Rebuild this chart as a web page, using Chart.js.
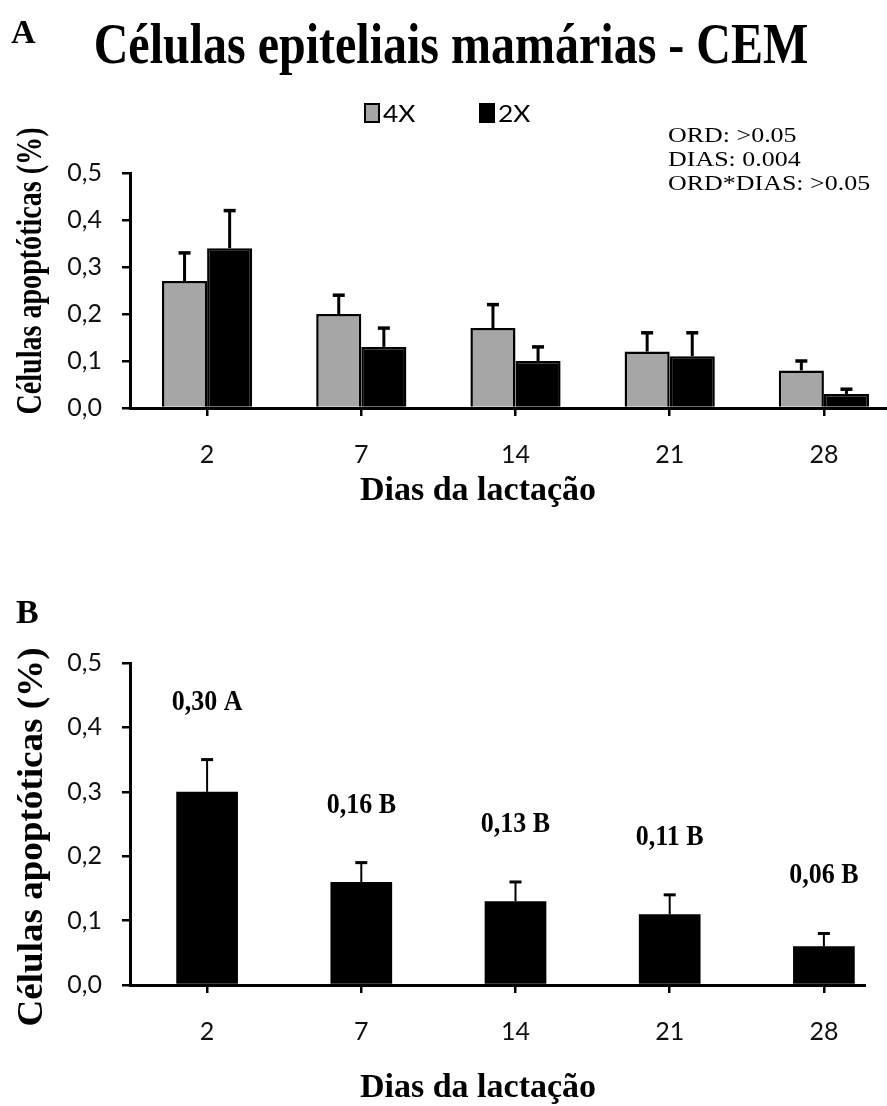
<!DOCTYPE html>
<html><head><meta charset="utf-8">
<script src="https://cdn.jsdelivr.net/npm/chart.js@4.4.1/dist/chart.umd.min.js"></script>
<style>
html,body{margin:0;padding:0;background:#fff;overflow:hidden;width:887px;height:1106px;}
#wa{position:absolute;left:0;top:0;width:887px;height:545px;overflow:hidden;}
#wb{position:absolute;left:0;top:545px;width:866px;height:561px;overflow:hidden;}
canvas{display:block;}
</style></head><body>
<div id="wa"><canvas id="ca" width="910" height="545" style="width:910px;height:545px"></canvas></div>
<div id="wb"><canvas id="cb" width="910" height="561" style="width:910px;height:561px"></canvas></div>
<script>
// ---- data ----
const days = ['2', '7', '14', '21', '28'];
const seriesNames = ['4X', '2X'];
const meanA4X = [0.27, 0.20, 0.17, 0.12, 0.08];
const errA4X  = [0.06, 0.04, 0.05, 0.04, 0.02];
const meanA2X = [0.34, 0.13, 0.10, 0.11, 0.03];
const errA2X  = [0.08, 0.04, 0.03, 0.05, 0.01];
const meanB = [0.30, 0.16, 0.13, 0.11, 0.06];
const errB  = [0.05, 0.03, 0.03, 0.03, 0.02];
const labelsB = ['0,30 A', '0,16 B', '0,13 B', '0,11 B', '0,06 B'];
const statsLines = ['ORD: >0.05', 'DIAS: 0.004', 'ORD*DIAS: >0.05'];
const titleA = 'Células epiteliais mamárias - CEM';
const yTitle = 'Células apoptóticas (%)';
const xTitle = 'Dias da lactação';

const SERIF = '"Liberation Serif", "Times New Roman", serif';
const SANS = 'Lato, Carlito, Calibri, sans-serif';

function drawText(ctx, str, x, y, font, o = {}) {
  ctx.save();
  ctx.font = font;
  ctx.fillStyle = o.color || '#000';
  ctx.textBaseline = o.baseline || 'alphabetic';
  ctx.textAlign = 'left';
  ctx.translate(x, y);
  if (o.rotate) ctx.rotate(o.rotate);
  ctx.scale(o.sx || 1, o.sy || 1);
  const w = ctx.measureText(str).width;
  const a = o.align || 'left';
  const dx = a === 'center' ? -w / 2 : a === 'right' ? -w : 0;
  ctx.fillText(str, dx, 0);
  ctx.restore();
}

const errorBars = {
  id: 'errorBars',
  afterDatasetsDraw(chart, args, opts) {
    const ctx = chart.ctx, y = chart.scales.y;
    chart.data.datasets.forEach((ds, i) => {
      const meta = chart.getDatasetMeta(i);
      meta.data.forEach((el, j) => {
        const top = y.getPixelForValue(ds.data[j] + ds.errors[j]);
        ctx.save();
        ctx.strokeStyle = '#000';
        ctx.lineWidth = opts.stem;
        ctx.beginPath();
        ctx.moveTo(el.x, el.y);
        ctx.lineTo(el.x, top);
        ctx.stroke();
        ctx.lineWidth = opts.cap;
        ctx.beginPath();
        ctx.moveTo(el.x - opts.capW / 2, top);
        ctx.lineTo(el.x + opts.capW / 2, top);
        ctx.stroke();
        ctx.restore();
      });
    });
  }
};

const fmt = v => (Math.round(v * 10) / 10).toFixed(1).replace('.', ',');

function scalesCfg(xHeight) {
  return {
    x: {
      type: 'category',
      grid: { display: true, drawOnChartArea: false, offset: false, tickLength: 8, color: '#000', lineWidth: 2.5 },
      border: { display: true, color: '#000', width: 3 },
      ticks: { color: '#111', font: { family: SANS, size: 25 }, padding: 24 },
      afterFit(s) { s.height = xHeight; }
    },
    y: {
      min: 0, max: 0.5,
      grid: { display: true, drawOnChartArea: false, tickLength: 8, color: '#000', lineWidth: 2.5 },
      border: { display: true, color: '#000', width: 3 },
      ticks: { stepSize: 0.1, color: '#111', font: { family: SANS, size: 25 }, padding: 20, callback: v => fmt(v) },
      afterFit(s) { s.width = 130; }
    }
  };
}

// ---- Chart A ----
const textA = {
  id: 'textA',
  afterDraw(chart) {
    const ctx = chart.ctx;
    drawText(ctx, 'A', 11, 43, `bold 34px ${SERIF}`);
    drawText(ctx, titleA, 451, 63, `bold 48px ${SERIF}`, { align: 'center', sy: 1.18 });
    // legend
    const items = chart.data.datasets;
    const lx = [365, 480];
    items.forEach((ds, i) => {
      ctx.save();
      ctx.fillStyle = ds.backgroundColor;
      ctx.strokeStyle = '#000';
      ctx.lineWidth = 2;
      ctx.fillRect(lx[i], 104, 14, 18);
      ctx.strokeRect(lx[i], 104, 14, 18);
      ctx.restore();
      drawText(ctx, ds.label, lx[i] + 18, 122, `24px ${SANS}`, { sx: 1.1 });
    });
    statsLines.forEach((t, i) => drawText(ctx, t, 668, 142 + i * 24, `22px ${SERIF}`, { sx: 1.18 }));
    drawText(ctx, yTitle, 41, 271, `bold 36px ${SERIF}`, { rotate: -Math.PI / 2, align: 'center', sx: 0.78 });
    drawText(ctx, xTitle, 478, 500, `bold 34px ${SERIF}`, { align: 'center' });
  }
};

new Chart(document.getElementById('ca'), {
  type: 'bar',
  data: {
    labels: days,
    datasets: [
      { label: seriesNames[0], data: meanA4X, errors: errA4X, backgroundColor: '#A6A6A6', borderColor: '#000', borderWidth: 2.5 },
      { label: seriesNames[1], data: meanA2X, errors: errA2X, backgroundColor: '#000000', borderColor: '#000', borderWidth: 2.5 }
    ]
  },
  options: {
    responsive: false, animation: false, events: [],
    layout: { padding: { top: 173, left: 0, right: 9, bottom: 0 } },
    datasets: { bar: { categoryPercentage: 0.585, barPercentage: 1.0 } },
    plugins: { legend: { display: false }, tooltip: { enabled: false }, title: { display: false },
      errorBars: { stem: 3, cap: 3.5, capW: 12 } },
    scales: scalesCfg(137)
  },
  plugins: [errorBars, textA]
});

// ---- Chart B ----
const textB = {
  id: 'textB',
  afterDraw(chart) {
    const ctx = chart.ctx;
    const y = chart.scales.y;
    drawText(ctx, 'B', 16, 78, `bold 34px ${SERIF}`);
    drawText(ctx, yTitle, 42, 292, `bold 36px ${SERIF}`, { rotate: -Math.PI / 2, align: 'center', sx: 1.03 });
    drawText(ctx, xTitle, 478, 552, `bold 34px ${SERIF}`, { align: 'center' });
    const ds = chart.data.datasets[0];
    chart.getDatasetMeta(0).data.forEach((el, j) => {
      const top = y.getPixelForValue(ds.data[j] + ds.errors[j]);
      drawText(ctx, labelsB[j], el.x, top - 50, `bold 26px ${SERIF}`, { align: 'center', sy: 1.1 });
    });
  }
};

new Chart(document.getElementById('cb'), {
  type: 'bar',
  data: {
    labels: days,
    datasets: [
      { label: 'Média', data: meanB, errors: errB, backgroundColor: '#000000', borderColor: '#000', borderWidth: 0 }
    ]
  },
  options: {
    responsive: false, animation: false, events: [],
    layout: { padding: { top: 118, left: 0, right: 9, bottom: 0 } },
    datasets: { bar: { categoryPercentage: 0.40, barPercentage: 1.0 } },
    plugins: { legend: { display: false }, tooltip: { enabled: false }, title: { display: false },
      errorBars: { stem: 2, cap: 3, capW: 12 } },
    scales: scalesCfg(121)
  },
  plugins: [errorBars, textB]
});
</script>
</body></html>
